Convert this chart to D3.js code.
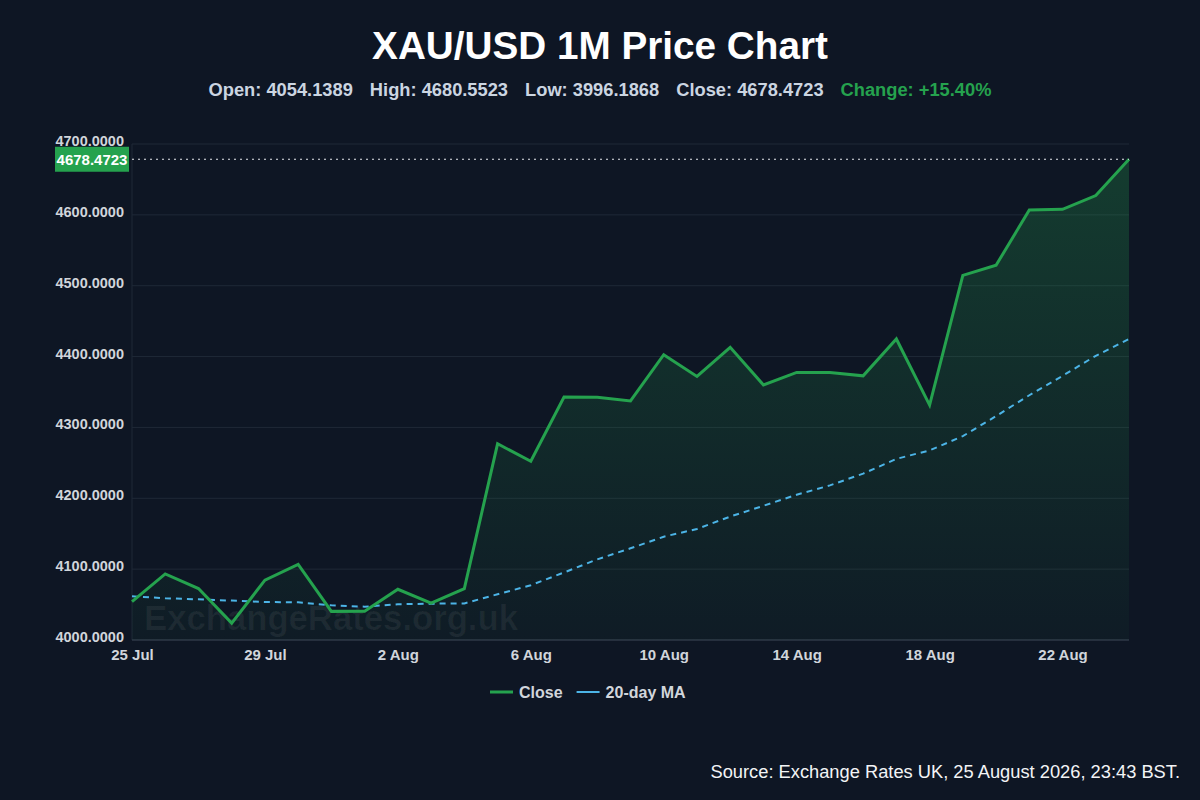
<!DOCTYPE html>
<html>
<head>
<meta charset='utf-8'>
<style>
body { margin: 0; background: #0e1624; }
svg { display: block; font-family: 'Liberation Sans', Arial, sans-serif; }
.axis path { display: none; }
.axis line { display: none; }
.axis text { fill: #d1d5db; font-weight: bold; }
.axis--x text { font-size: 15px; }
.axis--y text { font-size: 14.5px; }
.grid line { stroke: #1f2937; stroke-width: 1px; }
</style>
<script src='https://d3js.org/d3.v7.min.js'></script>
</head>
<body>
<svg id='chart1' width='1200' height='800'></svg>
<script>
// daily closes, 25 Jul .. 24 Aug 2026
var startDay = '2026-07-25';
var closeValues = [4054.14, 4093.3, 4072.6, 4023.8, 4084.4, 4106.6, 4040.4, 4040.6,
  4071.6, 4052.2, 4072.6, 4276.9, 4252.2, 4343.0, 4342.6, 4337.3,
  4402.6, 4371.9, 4413.0, 4360.0, 4377.6, 4377.4, 4372.8, 4424.8,
  4331.5, 4514.6, 4528.8, 4606.8, 4607.8, 4627.2, 4678.4723];
var maValues = [4061.7, 4058.9, 4057.4, 4055.6, 4053.6, 4053.2, 4048.9, 4047.0,
  4050.4, 4051.3, 4051.6, 4064.5, 4077.3, 4095.3, 4113.8, 4129.4,
  4145.8, 4156.7, 4174.2, 4189.4, 4205.0, 4218.2, 4234.8, 4255.6,
  4267.6, 4287.7, 4316.0, 4345.4, 4372.8, 4401.1, 4424.8];
var xTickDays = ['2026-07-25', '2026-07-29', '2026-08-02', '2026-08-06',
  '2026-08-10', '2026-08-14', '2026-08-18', '2026-08-22'];
var yTickValues = [4000, 4100, 4200, 4300, 4400, 4500, 4600, 4700];
var stats = [['Open', '4054.1389'], ['High', '4680.5523'], ['Low', '3996.1868'], ['Close', '4678.4723']];
var changeText = 'Change: +15.40%';
var lastClose = '4678.4723';

var green = '#25a24e';
var blue = '#4cb4e6';

var parseDay = d3.timeParse('%Y-%m-%d');
var t0 = parseDay(startDay);
var data = closeValues.map(function(v, i) {
  return {date: d3.timeDay.offset(t0, i), close: v, ma: maValues[i]};
});

var svg = d3.select('#chart1');
svg.append('rect').attr('width', 1200).attr('height', 800).attr('fill', '#0e1624');

var margin = {top: 144, right: 71, bottom: 160, left: 132};
var width = 1200 - margin.left - margin.right;
var height = 800 - margin.top - margin.bottom;

var x = d3.scaleTime().domain(d3.extent(data, function(d) { return d.date; })).range([0, width]);
var y = d3.scaleLinear().domain([4000, 4700]).range([height, 0]);

var g = svg.append('g').attr('transform', 'translate(' + margin.left + ',' + margin.top + ')');

// gradient for area
var defs = svg.append('defs');
var grad = defs.append('linearGradient').attr('id', 'areaGrad')
  .attr('gradientUnits', 'userSpaceOnUse')
  .attr('x1', 0).attr('y1', 0).attr('x2', 0).attr('y2', height);
grad.append('stop').attr('offset', '0%').attr('stop-color', green).attr('stop-opacity', 0.28);
grad.append('stop').attr('offset', '100%').attr('stop-color', green).attr('stop-opacity', 0.04);

// grid
g.append('g').attr('class', 'grid').selectAll('line').data(yTickValues).enter().append('line')
  .attr('x1', 0).attr('x2', width)
  .attr('y1', function(d) { return y(d); }).attr('y2', function(d) { return y(d); });
g.append('line').attr('x1', 0).attr('x2', 0).attr('y1', 0).attr('y2', height)
  .attr('stroke', '#1f2937');
g.append('line').attr('x1', 0).attr('x2', width).attr('y1', height).attr('y2', height)
  .attr('stroke', '#374151');

// watermark
g.append('text').attr('x', 12).attr('y', height - 10)
  .attr('font-size', '34.7px').attr('font-weight', 'bold')
  .attr('fill', '#ffffff').attr('fill-opacity', 0.06)
  .text('ExchangeRates.org.uk');

var area = d3.area()
  .x(function(d) { return x(d.date); })
  .y0(height)
  .y1(function(d) { return y(d.close); });
g.append('path').datum(data).attr('fill', 'url(#areaGrad)').attr('d', area);

var maLine = d3.line()
  .x(function(d) { return x(d.date); })
  .y(function(d) { return y(d.ma); });
g.append('path').datum(data).attr('fill', 'none').attr('stroke', blue)
  .attr('stroke-width', 2).attr('stroke-dasharray', '6,5').attr('d', maLine);

var closeLine = d3.line()
  .x(function(d) { return x(d.date); })
  .y(function(d) { return y(d.close); });
g.append('path').datum(data).attr('fill', 'none').attr('stroke', green)
  .attr('stroke-width', 3).attr('stroke-linejoin', 'miter').attr('d', closeLine);

// last price marker
var last = data[data.length - 1];
g.append('line').attr('x1', 0).attr('x2', width)
  .attr('y1', y(last.close)).attr('y2', y(last.close))
  .attr('stroke', '#e5e7eb').attr('stroke-width', 1.2).attr('stroke-dasharray', '2,4');
g.append('rect').attr('x', -77).attr('y', y(last.close) - 12.5)
  .attr('width', 74).attr('height', 25).attr('fill', green);
g.append('text').attr('x', -40).attr('y', y(last.close) + 5.5)
  .attr('text-anchor', 'middle').attr('fill', '#ffffff')
  .attr('font-size', '15px').attr('font-weight', 'bold').text(lastClose);

// axes
g.append('g').attr('class', 'axis axis--x')
  .attr('transform', 'translate(0,' + height + ')')
  .call(d3.axisBottom(x).tickValues(xTickDays.map(parseDay))
    .tickFormat(d3.timeFormat('%-d %b')).tickSize(0).tickPadding(9));

var yAxis = g.append('g').attr('class', 'axis axis--y')
  .call(d3.axisLeft(y).tickValues(yTickValues).tickFormat(d3.format('.4f'))
    .tickSize(0).tickPadding(8));
yAxis.selectAll('text').attr('dy', '0.1em');

// title
svg.append('text').attr('x', 600).attr('y', 59).attr('text-anchor', 'middle')
  .attr('fill', '#ffffff').attr('font-size', '38.7px').attr('font-weight', 'bold')
  .text('XAU/USD 1M Price Chart');

var sub = svg.append('text').attr('x', 600).attr('y', 96).attr('text-anchor', 'middle')
  .attr('font-size', '18.3px').attr('font-weight', 'bold');
stats.forEach(function(s, i) {
  sub.append('tspan').attr('fill', '#cbd5e1').attr('dx', i ? 17 : 0)
    .text(s[0] + ': ' + s[1]);
});
sub.append('tspan').attr('fill', green).attr('dx', 17).text(changeText);

// legend
var legendItems = [
  {label: 'Close', color: green, w: 3},
  {label: '20-day MA', color: blue, w: 2}
];
var leg = svg.append('g').attr('transform', 'translate(490,692)');
var lx = 0;
legendItems.forEach(function(it) {
  leg.append('line').attr('x1', lx).attr('x2', lx + 23).attr('y1', 0).attr('y2', 0)
    .attr('stroke', it.color).attr('stroke-width', it.w);
  var t = leg.append('text').attr('x', lx + 29).attr('y', 5.8)
    .attr('fill', '#d1d5db').attr('font-size', '16px').attr('font-weight', 'bold')
    .text(it.label);
  lx += 29 + t.node().getComputedTextLength() + 14;
});

// source
svg.append('text').attr('x', 1180).attr('y', 778).attr('text-anchor', 'end')
  .attr('fill', '#f3f4f6').attr('font-size', '18.3px')
  .text('Source: Exchange Rates UK, 25 August 2026, 23:43 BST.');
</script>
</body>
</html>
